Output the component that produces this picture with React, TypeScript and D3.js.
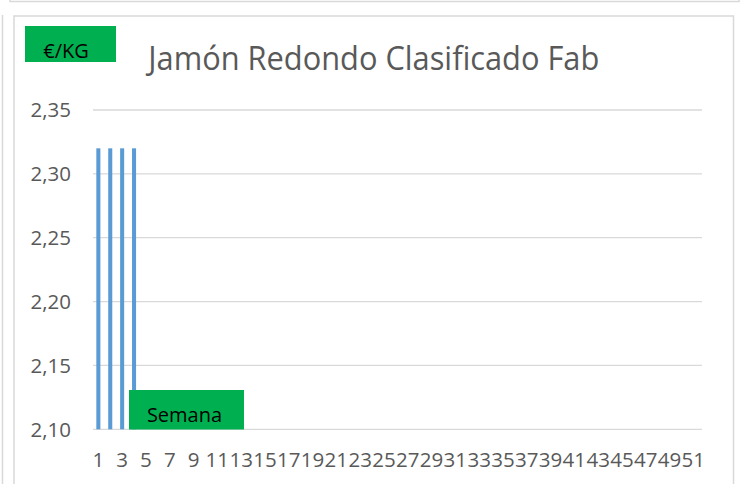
import React from "react";
import * as d3 from "d3";

const weeks: string[] = Array.from({ length: 52 }, (_, i) => String(i + 1));
const prices: (number | null)[] = [
  2.32, 2.32, 2.32, 2.32, null, null, null, null, null, null, null, null, null,
  null, null, null, null, null, null, null, null, null, null, null, null, null,
  null, null, null, null, null, null, null, null, null, null, null, null, null,
  null, null, null, null, null, null, null, null, null, null, null, null, null,
];
const yTicks: number[] = [2.1, 2.15, 2.2, 2.25, 2.3, 2.35];
const titleText = "Jamón Redondo Clasificado Fab";
const yUnit = "€/KG";
const xName = "Semana";

const W = 747;
const H = 484;
const FONT = "'Open Sans', 'Noto Sans', sans-serif";
const GREY = "#595959";
const GRID = "#d9d9d9";
const BAR = "#5b9bd5";
const GREEN = "#00b050";

const locale = d3.formatLocale({ decimal: ",", thousands: ".", grouping: [3], currency: ["", "€"] });
const fmt = locale.format(".2f");

export default function App() {
  const plotL = 93;
  const plotR = 702;
  const x = d3.scaleBand<string>().domain(weeks).range([92.4, 711.2]).paddingInner(0.66).paddingOuter(0.33);
  const y = d3.scaleLinear().domain([2.1, 2.35]).range([429.3, 110]);

  return (
    <svg
      width={W}
      height={H}
      style={{ position: "absolute", left: 0, top: 0, background: "#fff" }}
      fontFamily={FONT}
    >
      {/* surrounding frames */}
      <rect x={10} y={-10} width={729} height={11.5} fill="none" stroke={GRID} strokeWidth={1.5} />
      <line x1={2.5} x2={2.5} y1={15} y2={H + 5} stroke={GRID} strokeWidth={1.5} />
      <rect x={14} y={16} width={719.5} height={H + 10} fill="#fff" stroke={GRID} strokeWidth={1.5} />

      {/* gridlines */}
      {yTicks.map((t) => (
        <line key={t} x1={plotL} x2={plotR} y1={y(t)} y2={y(t)} stroke={GRID} strokeWidth={1.3} />
      ))}
      {/* y tick labels */}
      {yTicks.map((t) => (
        <text key={"l" + t} x={71} y={y(t) + 7.2} textAnchor="end" fontSize={20.5} fill={GREY}>
          {fmt(t)}
        </text>
      ))}

      {/* bars */}
      {weeks.map((w, i) =>
        prices[i] == null ? null : (
          <rect
            key={"b" + w}
            x={x(w) as number}
            width={x.bandwidth()}
            y={y(prices[i] as number)}
            height={y(2.1) - y(prices[i] as number)}
            fill={BAR}
          />
        )
      )}

      {/* x tick labels (every other week) */}
      {weeks.map((w, i) =>
        i % 2 === 0 ? (
          <text
            key={"x" + w}
            x={(x(w) as number) + x.bandwidth() / 2}
            y={467}
            textAnchor="middle"
            fontSize={20.5}
            fill={GREY}
          >
            {w}
          </text>
        ) : null
      )}

      {/* title */}
      <text x={148.3} y={69.5} fontSize={33.5} fill={GREY} textLength={451} lengthAdjust="spacingAndGlyphs">
        {titleText}
      </text>

      {/* unit box */}
      <rect x={25} y={26} width={91} height={36} fill={GREEN} />
      <text x={66} y={57.7} textAnchor="middle" fontSize={20} fill="#000">
        {yUnit}
      </text>

      {/* axis name box */}
      <rect x={129} y={390} width={115} height={39.5} fill={GREEN} />
      <text x={184.5} y={421.7} textAnchor="middle" fontSize={20} fill="#000">
        {xName}
      </text>
    </svg>
  );
}
